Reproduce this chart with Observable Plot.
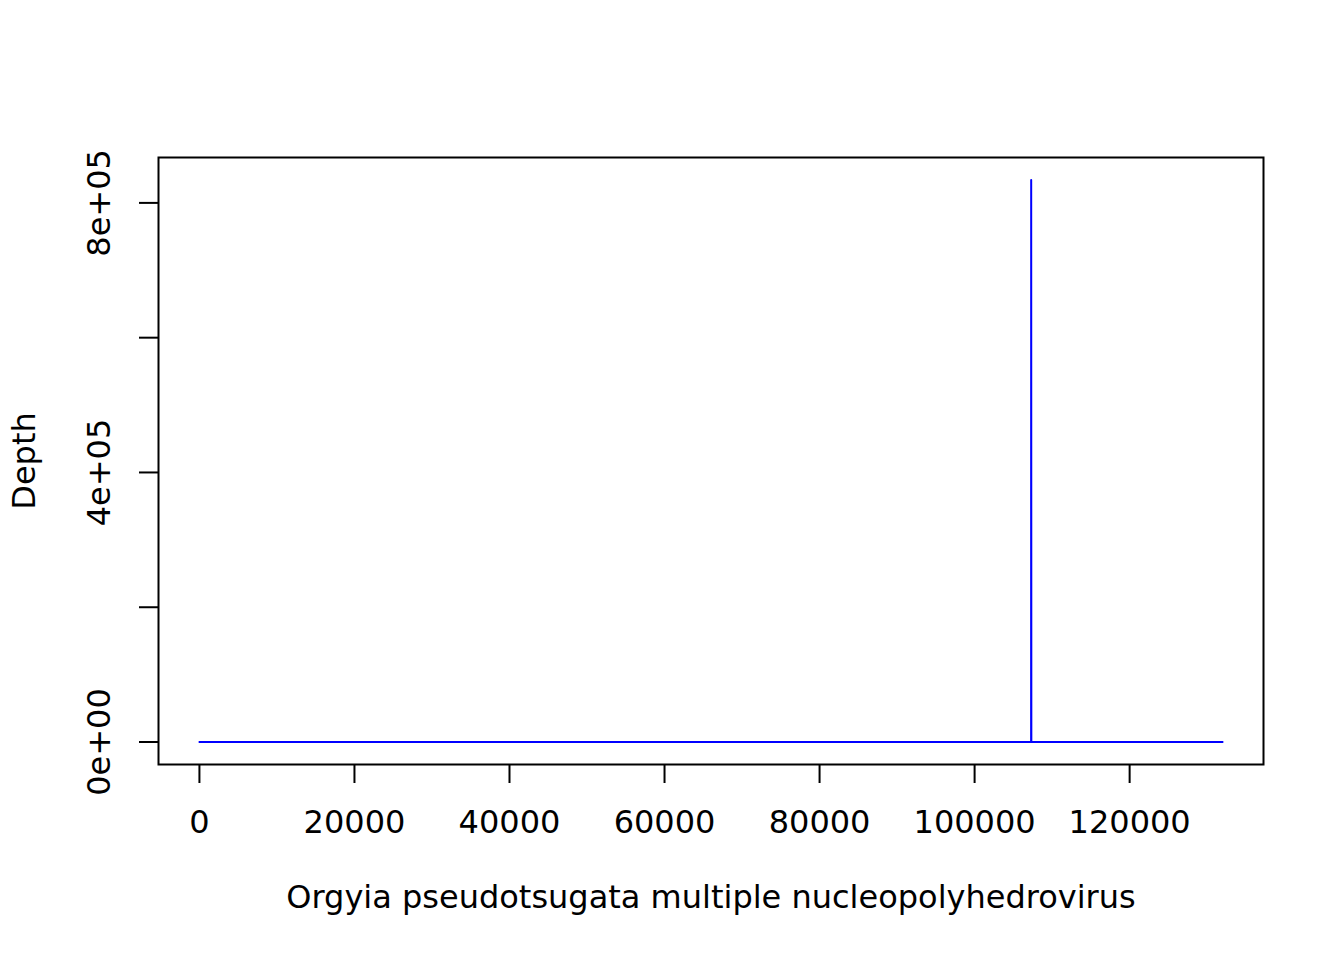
<!DOCTYPE html>
<html>
<head>
<meta charset="utf-8">
<script src="https://cdn.jsdelivr.net/npm/d3@7"></script>
<script src="https://cdn.jsdelivr.net/npm/@observablehq/plot@0.6"></script>
<style>
  html, body { margin: 0; padding: 0; background: #fff; }
  svg { display: block; font-family: "DejaVu Sans", sans-serif; }
</style>
</head>
<body>
<div id="chart"></div>
<script>
// Coverage depth along the genome
const positions = [0, 107270, 107290, 107300, 107320, 107340, 131990];
const depths    = [0, 0, 0, 834000, 0, 0, 0];

const xTicks = [0, 20000, 40000, 60000, 80000, 100000, 120000];
const yTicks = [0, 200000, 400000, 600000, 800000];
const yLabelValues = [0, 400000, 800000];
const yLabelTexts = ["0e+00", "4e+05", "8e+05"];

const xTitle = "Orgyia pseudotsugata multiple nucleopolyhedrovirus";
const yTitle = "Depth";

const data = positions.map((p, i) => ({pos: p, depth: depths[i]}));
const yLabels = yLabelValues.map((v, i) => ({v, t: yLabelTexts[i]}));

const xMax = d3.max(positions), yMax = d3.max(depths);
const fs = 32;
const sw = 2;

const chart = Plot.plot({
  width: 1344,
  height: 960,
  marginLeft: 158,
  marginRight: 81,
  marginTop: 157,
  marginBottom: 196,
  style: {fontFamily: "DejaVu Sans, sans-serif", background: "white"},
  x: {domain: [-0.04 * xMax, 1.04 * xMax], axis: null},
  y: {domain: [-0.04 * yMax, 1.04 * yMax], axis: null},
  marks: [
    Plot.frame({stroke: "black", strokeWidth: sw}),
    Plot.line(data, {x: "pos", y: "depth", stroke: "blue", strokeWidth: sw}),
    Plot.axisX({ticks: xTicks, tickSize: 19, tickPadding: 27, fontSize: fs, stroke: "black", strokeWidth: sw, fill: "black", tickFormat: d => String(d), label: null}),
    Plot.tickY(yTicks, {y: d => d, stroke: "black", strokeWidth: sw, render: (i, s, v, d, c, next) => {
      const g = next(i, s, v, d, c);
      d3.select(g).selectAll("line").attr("x1", 139).attr("x2", 158);
      return g;
    }}),
    Plot.text(yLabels, {y: "v", text: "t", frameAnchor: "left", dx: -58.5, rotate: -90, fontSize: fs, fill: "black", textAnchor: "middle", lineAnchor: "middle"}),
    Plot.text([xTitle], {frameAnchor: "bottom", dy: 133.5, fontSize: fs, fill: "black", textAnchor: "middle", lineAnchor: "middle"}),
    Plot.text([yTitle], {frameAnchor: "left", dx: -133.5, rotate: -90, fontSize: fs, fill: "black", textAnchor: "middle", lineAnchor: "middle"})
  ]
});
document.getElementById("chart").appendChild(chart);
</script>
</body>
</html>
